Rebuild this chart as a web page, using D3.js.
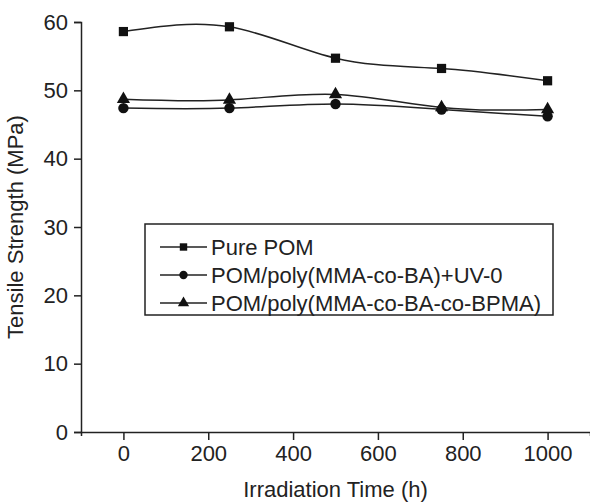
<!DOCTYPE html>
<html>
<head>
<meta charset="utf-8">
<script src="https://cdn.jsdelivr.net/npm/d3@7"></script>
<style>
  body { margin: 0; background: #fff; }
  svg { font-family: "Liberation Sans", Arial, sans-serif; }
</style>
</head>
<body>
<div class="chart"></div>
<script>
'use strict';

var hours = [0, 250, 500, 750, 1000];
var purePOM = [58.6, 59.3, 54.7, 53.2, 51.4];
var uv0 = [47.4, 47.4, 48.0, 47.2, 46.2];
var bpma = [48.7, 48.6, 49.4, 47.5, 47.2];
var seriesNames = ['Pure POM', 'POM/poly(MMA-co-BA)+UV-0', 'POM/poly(MMA-co-BA-co-BPMA)'];
var xTicks = [0, 200, 400, 600, 800, 1000];
var yTicks = [0, 10, 20, 30, 40, 50, 60];

var margin = {top: 22, right: 0, bottom: 70, left: 81},
  width = 590 - margin.left - margin.right,
  height = 502 - margin.top - margin.bottom;

var svg = d3.select('.chart').append('svg')
  .attr('width', 590)
  .attr('height', 502)
  .append('g')
  .attr('transform', 'translate(' + margin.left + ',' + margin.top + ')');

var x = d3.scaleLinear().domain([-100, 1100]).range([0, width]);
var y = d3.scaleLinear().domain([0, 60]).range([height, 0]);

var ink = '#222';
var fontSize = 22;

// x axis, minor ticks first then major ones with labels
var xAxis = svg.append('g')
  .attr('transform', 'translate(0,' + height + ')');
xAxis.call(d3.axisBottom(x).tickValues(d3.range(-100, 1101, 200)).tickSize(4).tickFormat(''));
xAxis.call(d3.axisBottom(x).tickValues(xTicks).tickSize(8).tickSizeOuter(4).tickPadding(5).tickFormat(d3.format('d')));
xAxis.selectAll('.domain').attr('stroke', ink).attr('stroke-width', 1.5);
xAxis.selectAll('line').attr('stroke', ink).attr('stroke-width', 1.5);
xAxis.selectAll('text').attr('font-size', fontSize).attr('fill', ink).attr('font-family', null);

// y axis
var yAxis = svg.append('g');
yAxis.call(d3.axisLeft(y).tickValues(d3.range(5, 60, 10)).tickSize(4).tickFormat(''));
yAxis.call(d3.axisLeft(y).tickValues(yTicks).tickSize(7).tickPadding(6));
yAxis.selectAll('.domain').attr('stroke', ink).attr('stroke-width', 1.5);
yAxis.selectAll('line').attr('stroke', ink).attr('stroke-width', 1.5);
yAxis.selectAll('text').attr('font-size', fontSize).attr('fill', ink).attr('font-family', null);

svg.append('text')
  .attr('x', width / 2)
  .attr('y', height + 65)
  .attr('text-anchor', 'middle')
  .attr('font-size', fontSize)
  .attr('fill', ink)
  .text('Irradiation Time (h)');

svg.append('text')
  .attr('transform', 'translate(' + (-58) + ',' + (height / 2) + ') rotate(-90)')
  .attr('text-anchor', 'middle')
  .attr('font-size', fontSize)
  .attr('fill', ink)
  .text('Tensile Strength (MPa)');

var series = [
  {name: seriesNames[0], values: purePOM, symbol: d3.symbolSquare},
  {name: seriesNames[1], values: uv0, symbol: d3.symbolCircle},
  {name: seriesNames[2], values: bpma, symbol: d3.symbolTriangle}
];

var line = d3.line()
  .curve(d3.curveNatural)
  .x(function(d) { return x(d[0]); })
  .y(function(d) { return y(d[1]); });

series.forEach(function(s) {
  var pts = hours.map(function(h, i) { return [h, s.values[i]]; });
  svg.append('path')
    .datum(pts)
    .attr('fill', 'none')
    .attr('stroke', ink)
    .attr('stroke-width', 1.5)
    .attr('d', line);
  svg.selectAll(null)
    .data(pts)
    .enter().append('path')
    .attr('transform', function(d) { return 'translate(' + x(d[0]) + ',' + y(d[1]) + ')'; })
    .attr('d', d3.symbol().type(s.symbol).size(s.symbol === d3.symbolTriangle ? 75 : 85))
    .attr('fill', '#111');
});

// legend
var legend = svg.append('g')
  .attr('transform', 'translate(' + (145 - margin.left) + ',' + (224 - margin.top) + ')');

legend.append('rect')
  .attr('width', 408)
  .attr('height', 91)
  .attr('fill', '#fff')
  .attr('stroke', ink)
  .attr('stroke-width', 1.5);

series.forEach(function(s, i) {
  var row = legend.append('g')
    .attr('transform', 'translate(0,' + (23 + i * 28) + ')');
  row.append('line')
    .attr('x1', 15).attr('x2', 62)
    .attr('stroke', ink).attr('stroke-width', 1.5);
  row.append('path')
    .attr('transform', 'translate(38.5,0)')
    .attr('d', d3.symbol().type(s.symbol).size(55))
    .attr('fill', '#111');
  row.append('text')
    .attr('x', 66)
    .attr('dy', '0.35em')
    .attr('font-size', fontSize)
    .attr('fill', ink)
    .text(s.name);
});
</script>
</body>
</html>
